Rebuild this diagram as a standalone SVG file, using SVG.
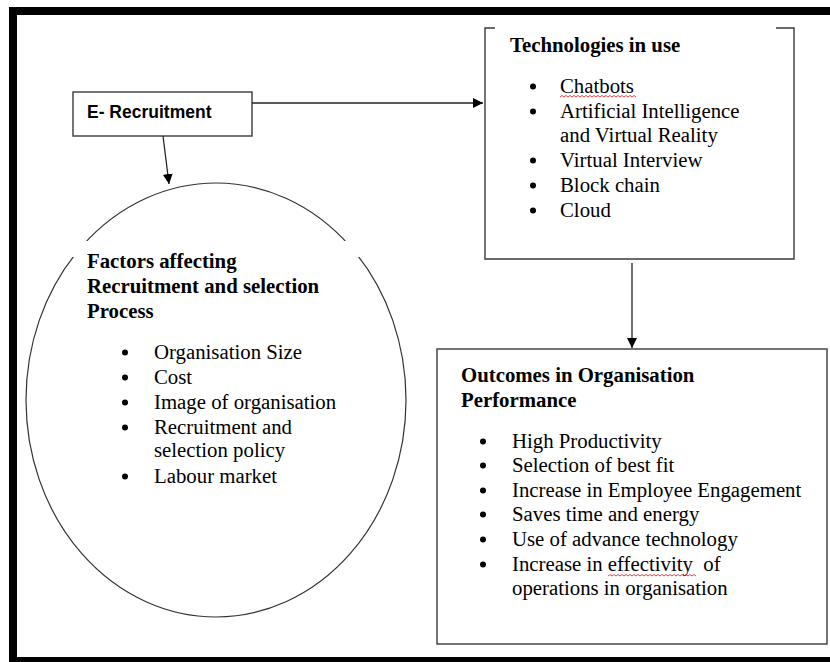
<svg xmlns="http://www.w3.org/2000/svg" width="830" height="662" viewBox="0 0 830 662">
<defs>
<style>
.frame{fill:none;stroke:#000;stroke-width:8}
.box{fill:#fff;stroke:#3a3a3a;stroke-width:1.4}
.edge{fill:none;stroke:#222;stroke-width:1.3}
.h{font-family:"Liberation Serif","Times New Roman",serif;font-weight:bold;font-size:20.8px;fill:#000}
.t{font-family:"Liberation Serif","Times New Roman",serif;font-size:20.8px;fill:#000;white-space:pre}
.s{font-family:"Liberation Sans",Arial,sans-serif;font-weight:bold;font-size:17.5px;fill:#000}
.b{fill:#000}
.wave{fill:none;stroke:#e03030;stroke-width:0.9}
</style>
<marker id="arr" viewBox="0 0 10 10" refX="10" refY="5" markerWidth="10" markerHeight="10" markerUnits="userSpaceOnUse" orient="auto">
<path d="M0,0 L10,5 L0,10 Z" fill="#000"/>
</marker>
</defs>
<rect width="830" height="662" fill="#fff"/>
<rect class="frame" x="13" y="11" width="830" height="650"/>

<g id="factors">
<ellipse cx="216" cy="400" rx="190" ry="217" fill="#fff" stroke="#333" stroke-width="1.2"/>
<rect x="60" y="241" width="315" height="16" fill="#fff"/>
<text class="h" x="87" y="268">Factors affecting</text>
<text class="h" x="87" y="293">Recruitment and selection</text>
<text class="h" x="87" y="318">Process</text>
<circle class="b" cx="125" cy="352.5" r="3"/>
<circle class="b" cx="125" cy="377.5" r="3"/>
<circle class="b" cx="125" cy="402.5" r="3"/>
<circle class="b" cx="125" cy="427.5" r="3"/>
<circle class="b" cx="125" cy="476.5" r="3"/>
<text class="t" x="154" y="359">Organisation Size</text>
<text class="t" x="154" y="384">Cost</text>
<text class="t" x="154" y="409">Image of organisation</text>
<text class="t" x="154" y="434">Recruitment and</text>
<text class="t" x="154" y="457">selection policy</text>
<text class="t" x="154" y="483">Labour market</text>
</g>

<g id="erecruitment">
<rect class="box" x="73" y="92" width="179" height="44"/>
<text class="s" x="87" y="118">E- Recruitment</text>
</g>

<g id="technologies">
<path class="box" d="M495,28 L485,28 L485,259 L794,259 L794,28 L776,28"/>
<text class="h" x="510" y="52">Technologies in use</text>
<circle class="b" cx="533" cy="86.5" r="3"/>
<circle class="b" cx="533" cy="111.5" r="3"/>
<circle class="b" cx="533" cy="160.5" r="3"/>
<circle class="b" cx="533" cy="185.5" r="3"/>
<circle class="b" cx="533" cy="210.5" r="3"/>
<text class="t" x="560" y="93">Chatbots</text>
<path class="wave" d="M560,97 l2,-1.5 l2,1.5 l2,-1.5 l2,1.5 l2,-1.5 l2,1.5 l2,-1.5 l2,1.5 l2,-1.5 l2,1.5 l2,-1.5 l2,1.5 l2,-1.5 l2,1.5 l2,-1.5 l2,1.5 l2,-1.5 l2,1.5 l2,-1.5 l2,1.5 l2,-1.5 l2,1.5 l2,-1.5 l2,1.5 l2,-1.5 l2,1.5 l2,-1.5 l2,1.5 l2,-1.5 l2,1.5 l2,-1.5 l2,1.5 l2,-1.5 l2,1.5 l2,-1.5 l2,1.5 l2,-1.5 l2,1.5"/>
<text class="t" x="560" y="118">Artificial Intelligence</text>
<text class="t" x="560" y="142">and Virtual Reality</text>
<text class="t" x="560" y="167">Virtual Interview</text>
<text class="t" x="560" y="192">Block chain</text>
<text class="t" x="560" y="217">Cloud</text>
</g>

<g id="outcomes">
<rect class="box" x="437" y="349" width="390" height="295"/>
<text class="h" x="461" y="382">Outcomes in Organisation</text>
<text class="h" x="461" y="407">Performance</text>
<circle class="b" cx="483" cy="441.5" r="3"/>
<circle class="b" cx="483" cy="465.5" r="3"/>
<circle class="b" cx="483" cy="490.5" r="3"/>
<circle class="b" cx="483" cy="514.5" r="3"/>
<circle class="b" cx="483" cy="539.5" r="3"/>
<circle class="b" cx="483" cy="564.5" r="3"/>
<text class="t" x="512" y="448">High Productivity</text>
<text class="t" x="512" y="472">Selection of best fit</text>
<text class="t" x="512" y="497">Increase in Employee Engagement</text>
<text class="t" x="512" y="521">Saves time and energy</text>
<text class="t" x="512" y="546">Use of advance technology</text>
<text class="t" x="512" y="571" xml:space="preserve">Increase in effectivity  of</text>
<path class="wave" d="M608,576 l2,-1.5 l2,1.5 l2,-1.5 l2,1.5 l2,-1.5 l2,1.5 l2,-1.5 l2,1.5 l2,-1.5 l2,1.5 l2,-1.5 l2,1.5 l2,-1.5 l2,1.5 l2,-1.5 l2,1.5 l2,-1.5 l2,1.5 l2,-1.5 l2,1.5 l2,-1.5 l2,1.5 l2,-1.5 l2,1.5 l2,-1.5 l2,1.5 l2,-1.5 l2,1.5 l2,-1.5 l2,1.5 l2,-1.5 l2,1.5 l2,-1.5 l2,1.5 l2,-1.5 l2,1.5 l2,-1.5 l2,1.5 l2,-1.5 l2,1.5 l2,-1.5 l2,1.5 l2,-1.5 l2,1.5"/>
<text class="t" x="512" y="595">operations in organisation</text>
</g>

<g id="connectors">
<line class="edge" x1="252" y1="103" x2="483" y2="103" marker-end="url(#arr)"/>
<line class="edge" x1="163" y1="136" x2="169" y2="184" marker-end="url(#arr)"/>
<line class="edge" x1="632" y1="263" x2="632" y2="348" marker-end="url(#arr)"/>
</g>
</svg>
